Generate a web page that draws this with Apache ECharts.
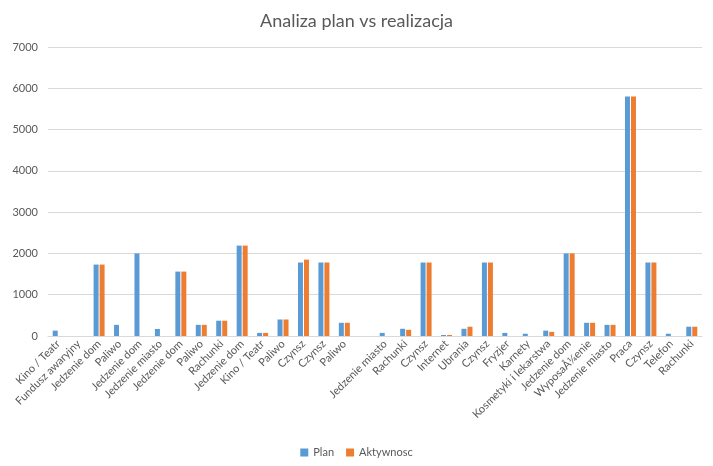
<!DOCTYPE html>
<html><head><meta charset="utf-8">
<script src="https://cdn.jsdelivr.net/npm/echarts@6/dist/echarts.min.js"></script>
<style>html,body{margin:0;padding:0;background:#fff}#c{width:713px;height:466px}</style>
</head><body><div id="c"></div>
<script>
const categories = ["Kino / Teatr","Fundusz awaryjny","Jedzenie dom","Paliwo","Jedzenie dom","Jedzenie miasto","Jedzenie dom","Paliwo","Rachunki","Jedzenie dom","Kino / Teatr","Paliwo","Czynsz","Czynsz","Paliwo","","Jedzenie miasto","Rachunki","Czynsz","Internet","Ubrania","Czynsz","Fryzjer","Karnety","Kosmetyki i lekarstwa","Jedzenie dom","WyposaÅ¼enie","Jedzenie miasto","Praca","Czynsz","Telefon","Rachunki"];
const planValues = [130,0,1730,270,2000,170,1560,270,370,2190,75,400,1780,1780,320,0,75,175,1780,25,175,1780,75,55,130,2000,320,270,5800,1780,55,225];
const aktywnoscValues = [0,0,1730,0,0,0,1560,270,370,2190,75,400,1850,1780,320,0,0,150,1780,25,225,1780,0,0,100,2000,320,270,5800,1780,0,225];
const yTicks = {min:0, max:7000, interval:1000};

const font = 'Lato, "Open Sans", sans-serif';
const chart = echarts.init(document.getElementById('c'));
chart.setOption({
  animation:false,
  title:{text:'Analiza plan vs realizacja',left:'center',top:7,
    textStyle:{fontFamily:font,fontSize:18,fontWeight:'normal',color:'#595959'}},
  legend:{bottom:3,left:'center',itemWidth:8,itemHeight:8,itemGap:12,icon:'rect',
    textStyle:{fontFamily:font,fontSize:11,color:'#595959'},data:['Plan','Aktywnosc']},
  grid:{left:48,right:11,top:47,bottom:130,containLabel:false},
  xAxis:{type:'category',data:categories,
    axisLine:{lineStyle:{color:'#D9D9D9'}},axisTick:{show:false},
    axisLabel:{interval:0,rotate:45,fontFamily:font,fontSize:11,color:'#595959',margin:6}},
  yAxis:{type:'value',min:yTicks.min,max:yTicks.max,interval:yTicks.interval,
    axisLine:{show:false},axisTick:{show:false},
    splitLine:{lineStyle:{color:'#D9D9D9'}},
    axisLabel:{fontFamily:font,fontSize:11,color:'#595959',margin:10,formatter:v=>String(v)}},
  series:[
    {name:'Plan',type:'bar',data:planValues,barWidth:5,barGap:'20%',itemStyle:{color:'#5B9BD5'}},
    {name:'Aktywnosc',type:'bar',data:aktywnoscValues,barWidth:5,barGap:'20%',itemStyle:{color:'#ED7D31'}}
  ]
});
</script></body></html>
